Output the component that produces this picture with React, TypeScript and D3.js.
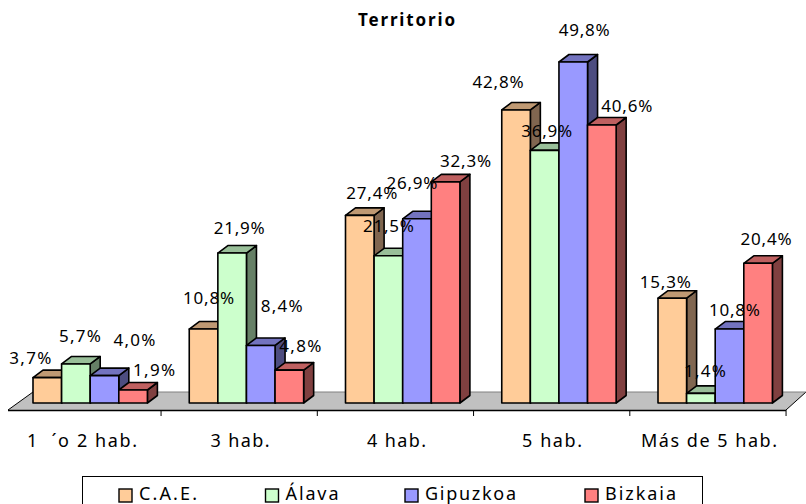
import React from "react";
import * as d3 from "d3";

const categories = ["1  ´o 2 hab.", "3 hab.", "4 hab.", "5 hab.", "Más de 5 hab."];
const seriesNames = ["C.A.E.", "Álava", "Gipuzkoa", "Bizkaia"];
const caeValues = [3.7, 10.8, 27.4, 42.8, 15.3];
const alavaValues = [5.7, 21.9, 21.5, 36.9, 1.4];
const gipuzkoaValues = [4.0, 8.4, 26.9, 49.8, 10.8];
const bizkaiaValues = [1.9, 4.8, 32.3, 40.6, 20.4];
const seriesValues = [caeValues, alavaValues, gipuzkoaValues, bizkaiaValues];
const colors = ["#ffcc99", "#ccffcc", "#9999ff", "#ff8080"];
const topColors = ["#bf9973", "#99bf99", "#7373bf", "#bf6060"];
const sideColors = ["#806650", "#668066", "#4d4d80", "#804040"];

// label offsets from the top centre of each bar [series][category]
const labelNudges = [
  [[-17, -20], [5, -31], [12, -22], [-18, -28], [-7, -16]],
  [[4, -28], [7, -25], [0, -30], [2, -19], [4, -22]],
  [[30, -36], [21, -39], [-5, -36], [11, -32], [5, -19]],
  [[21, -20], [11, -24], [20, -21], [25, -19], [8, -24]],
];
const categoryCentres = [82, 240, 396.5, 552, 709];
const categoryWidths = [110, 59, 59, 60, 136];
const legendX = [119, 265.5, 405, 585];
const legendWidths = [58, 53, 91, 71];

const font = "'Noto Sans', Tahoma, sans-serif";
const baseY = 403;
const depthX = 10;
const depthY = 7.5;
const y = d3.scaleLinear().domain([0, 49.8]).range([baseY, 62]);
const xCat = d3.scaleBand<number>().domain(d3.range(5)).range([6, 787.25]).padding(0);
const xBar = d3.scaleBand<number>().domain(d3.range(4)).range([27, 141.4]).padding(0);
const fmt = (v: number) => v.toFixed(1).replace(".", ",") + "%";

export default function App() {
  const bw = xBar.bandwidth();
  return (
    <svg width={806} height={504} style={{ position: "absolute", left: 0, top: 0, background: "#fff" }} fontFamily={font}>
      <path d="M8,410 L33,392 L806,392 L786,410 Z" fill="#c0c0c0" />
      <path d="M8,410 L33,392" stroke="#000" strokeWidth={1} fill="none" />
      <path d="M786,410 L806,392" stroke="#000" strokeWidth={1} fill="none" />
      <line x1={33} y1={392} x2={806} y2={392} stroke="#808080" strokeWidth={1} />
      <line x1={8} y1={410.5} x2={786} y2={410.5} stroke="#000" strokeWidth={1.4} />
      {d3.range(1, 6).map((i) => {
        const tx = xCat(i - 1)! + xCat.bandwidth() - 1.2;
        return <line key={i} x1={tx} x2={tx} y1={410} y2={416} stroke="#000" strokeWidth={1} />;
      })}
      {categories.map((_, c) =>
        seriesValues.map((vals, s) => {
          const x0 = xCat(c)! + xBar(s)!;
          const x1 = x0 + bw;
          const top = y(vals[c]);
          return (
            <g key={`${c}-${s}`} stroke="#000" strokeWidth={1.6} strokeLinejoin="round">
              <path d={`M${x1},${baseY} L${x1 + depthX},${baseY - depthY} L${x1 + depthX},${top - depthY} L${x1},${top} Z`} fill={sideColors[s]} />
              <path d={`M${x0},${top} L${x0 + depthX},${top - depthY} L${x1 + depthX},${top - depthY} L${x1},${top} Z`} fill={topColors[s]} />
              <rect x={x0} y={top} width={bw} height={baseY - top} fill={colors[s]} />
            </g>
          );
        })
      )}
      {categories.map((_, c) =>
        seriesValues.map((vals, s) => {
          const cx = xCat(c)! + xBar(s)! + bw / 2;
          const [dx, dy] = labelNudges[s][c];
          return (
            <text key={`${c}-${s}`} x={cx + dx} y={y(vals[c]) + dy + 6} textAnchor="middle" fontSize={17} fill="#000" textLength={fmt(vals[c]).length === 5 ? 51 : 42} lengthAdjust="spacing">
              {fmt(vals[c])}
            </text>
          );
        })
      )}
      {categories.map((cat, c) => (
        <text key={cat} x={categoryCentres[c]} y={447} textAnchor="middle" fontSize={18} fill="#000" textLength={categoryWidths[c]} lengthAdjust="spacing" style={{ whiteSpace: "pre" }}>
          {cat}
        </text>
      ))}
      <text x={406.5} y={26} textAnchor="middle" fontSize={17} fontWeight="bold" fill="#000" textLength={97} lengthAdjust="spacing">Territorio</text>
      <rect x={82.5} y={476.5} width={620} height={40} fill="#fff" stroke="#000" strokeWidth={1} />
      {seriesNames.map((n, s) => (
        <g key={n}>
          <rect x={legendX[s]} y={489} width={13} height={13} fill={colors[s]} stroke="#000" strokeWidth={1.4} />
          <text x={legendX[s] + 20} y={500} fontSize={18} fill="#000" textLength={legendWidths[s]} lengthAdjust="spacing">{n}</text>
        </g>
      ))}
    </svg>
  );
}
